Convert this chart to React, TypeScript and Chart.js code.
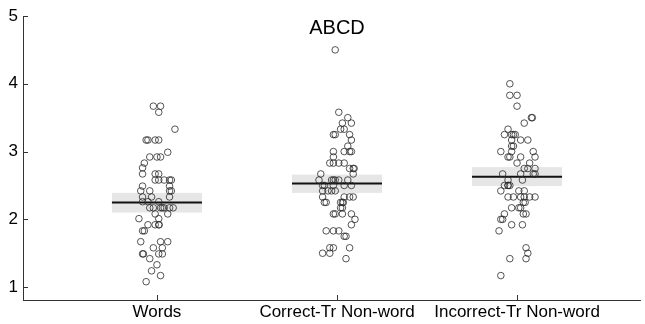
import React, { useEffect, useRef } from "react";
import { Chart, registerables } from "chart.js";

Chart.register(...registerables);

const categories = ["Words", "Correct-Tr Non-word", "Incorrect-Tr Non-word"];
const titleText = "ABCD";
const yTickValues = [1, 2, 3, 4, 5];
const means = [2.25, 2.53, 2.63];
const ciLow = [2.1, 2.39, 2.49];
const ciHigh = [2.39, 2.66, 2.77];

const wordsValues = [
  3.67, 3.67, 3.58, 3.33, 3.17, 3.17, 3.17, 3.17, 2.99, 2.92, 2.92, 2.92, 2.83,
  2.76, 2.67, 2.67, 2.67, 2.58, 2.58, 2.58, 2.58, 2.58, 2.49, 2.49, 2.42, 2.42,
  2.42, 2.42, 2.33, 2.33, 2.33, 2.26, 2.26, 2.26, 2.17, 2.17, 2.17, 2.17, 2.17,
  2.17, 2.17, 2.08, 2.08, 2.01, 2.01, 1.92, 1.92, 1.92, 1.92, 1.83, 1.83, 1.67,
  1.67, 1.67, 1.58, 1.58, 1.49, 1.49, 1.49, 1.49, 1.42, 1.33, 1.24, 1.17, 1.08,
];
const wordsJitter = [
  -0.02, 0.02, 0.01, 0.1, -0.06, -0.05, -0.01, 0.01, 0.06, -0.04, 0.0, 0.02, -0.07,
  -0.08, -0.08, -0.01, 0.01, -0.01, 0.01, 0.04, 0.07, 0.08, 0.07, -0.08, -0.09, -0.04,
  0.07, 0.08, -0.08, -0.03, 0.07, -0.08, -0.05, 0.01, -0.04, -0.02, 0.02, 0.03, 0.04,
  0.07, 0.09, 0.06, -0.01, 0.01, -0.1, -0.05, -0.01, 0.01, 0.012, -0.08, -0.07, -0.09,
  0.02, 0.06, -0.02, 0.03, -0.08, -0.075, 0.01, 0.03, -0.04, 0.0, -0.03, 0.02, -0.06,
];

const correctValues = [
  4.5, 3.58, 3.5, 3.42, 3.42, 3.33, 3.33, 3.25, 3.25, 3.25, 3.17, 3.08, 3.0, 3.0,
  3.0, 3.0, 2.92, 2.83, 2.83, 2.83, 2.83, 2.75, 2.75, 2.75, 2.67, 2.67, 2.58, 2.58,
  2.58, 2.58, 2.58, 2.58, 2.5, 2.5, 2.5, 2.5, 2.5, 2.42, 2.42, 2.42, 2.42, 2.33,
  2.33, 2.33, 2.33, 2.25, 2.25, 2.25, 2.25, 2.25, 2.17, 2.17, 2.08, 2.08, 2.08, 2.08,
  2.0, 1.92, 1.83, 1.83, 1.83, 1.75, 1.75, 1.58, 1.58, 1.58, 1.5, 1.5, 1.42,
];
const correctJitter = [
  -0.01, 0.01, 0.06, 0.03, 0.08, 0.02, 0.04, -0.02, -0.01, 0.07, 0.08, 0.06, 0.04, 0.07,
  0.08, -0.02, -0.02, -0.04, -0.02, 0.01, 0.04, 0.07, 0.09, 0.095, 0.09, -0.09, -0.1, -0.03,
  -0.02, -0.01, 0.01, 0.06, -0.07, -0.02, 0.04, 0.08, -0.08, -0.08, -0.05, -0.01, -0.03, -0.08,
  0.04, 0.07, 0.09, -0.07, -0.06, 0.02, 0.03, 0.035, 0.02, 0.03, -0.02, -0.01, 0.03, 0.08,
  0.1, 0.08, -0.06, -0.02, 0.01, 0.04, 0.05, -0.04, -0.02, 0.07, -0.08, -0.04, 0.05,
];

const incorrectValues = [
  4.0, 3.83, 3.83, 3.67, 3.5, 3.5, 3.42, 3.33, 3.25, 3.25, 3.25, 3.25, 3.17, 3.17,
  3.17, 3.08, 3.08, 3.0, 3.0, 3.0, 2.92, 2.92, 2.92, 2.92, 2.83, 2.83, 2.75, 2.75,
  2.75, 2.67, 2.67, 2.67, 2.67, 2.58, 2.58, 2.5, 2.5, 2.5, 2.5, 2.42, 2.42, 2.42,
  2.33, 2.33, 2.33, 2.33, 2.33, 2.33, 2.25, 2.25, 2.17, 2.17, 2.17, 2.08, 2.08, 2.08,
  2.0, 2.0, 1.92, 1.92, 1.83, 1.58, 1.5, 1.42, 1.42, 1.17,
];
const incorrectJitter = [
  -0.04, -0.04, 0.0, 0.0, 0.08, 0.085, 0.04, -0.05, -0.07, -0.03, -0.02, -0.01, -0.03, 0.02,
  0.06, -0.03, -0.02, -0.09, -0.03, 0.09, 0.1, -0.05, -0.04, 0.02, 0.0, 0.07, 0.04, 0.06,
  0.1, -0.08, 0.02, 0.09, 0.1, -0.05, 0.03, -0.07, -0.05, -0.05, -0.04, -0.09, 0.01, 0.04,
  -0.05, -0.02, 0.02, 0.04, 0.07, 0.1, 0.035, 0.045, -0.03, 0.01, 0.02, -0.07, 0.035, 0.05,
  -0.09, -0.08, -0.03, 0.03, -0.1, 0.05, 0.06, -0.04, 0.05, -0.09,
];

const groups = [
  { values: wordsValues, jitter: wordsJitter },
  { values: correctValues, jitter: correctJitter },
  { values: incorrectValues, jitter: incorrectJitter },
];

const FONT = "'Liberation Sans', Arial, Helvetica, sans-serif";
const AXIS_COLOR = "#333333";
const BOX_HALF = 0.25;

const boxPlugin = {
  id: "boxPlugin",
  beforeDatasetsDraw(chart: any) {
    const { ctx, scales } = chart;
    const x = scales.x;
    const y = scales.y;
    ctx.save();
    ctx.fillStyle = "#e6e6e6";
    for (let i = 0; i < categories.length; i++) {
      const x0 = x.getPixelForValue(i + 1 - BOX_HALF);
      const x1 = x.getPixelForValue(i + 1 + BOX_HALF);
      const y0 = y.getPixelForValue(ciHigh[i]);
      const y1 = y.getPixelForValue(ciLow[i]);
      ctx.fillRect(x0, y0, x1 - x0, y1 - y0);
    }
    ctx.restore();
  },
  afterDraw(chart: any) {
    const { ctx, scales, chartArea } = chart;
    const x = scales.x;
    const y = scales.y;
    ctx.save();
    ctx.strokeStyle = AXIS_COLOR;
    ctx.lineWidth = 1;
    ctx.beginPath();
    for (const v of yTickValues) {
      const py = Math.round(y.getPixelForValue(v)) + 0.5;
      ctx.moveTo(chartArea.left, py);
      ctx.lineTo(chartArea.left + 5, py);
    }
    for (let i = 0; i < categories.length; i++) {
      const px = Math.round(x.getPixelForValue(i + 1)) + 0.5;
      ctx.moveTo(px, chartArea.bottom);
      ctx.lineTo(px, chartArea.bottom - 5);
    }
    ctx.stroke();
    ctx.fillStyle = "#000";
    ctx.font = `20px ${FONT}`;
    ctx.textAlign = "center";
    ctx.textBaseline = "middle";
    ctx.fillText(titleText, x.getPixelForValue(2), chartArea.top + 12.5);
    ctx.restore();
  },
};

export default function App() {
  const ref = useRef<HTMLCanvasElement | null>(null);
  useEffect(() => {
    document.body.style.margin = "0";
    const canvas = ref.current;
    if (!canvas) return;

    const meanLine: any[] = [];
    means.forEach((m, i) => {
      meanLine.push({ x: i + 1 - BOX_HALF, y: m });
      meanLine.push({ x: i + 1 + BOX_HALF, y: m });
      meanLine.push({ x: i + 1 + BOX_HALF, y: null });
    });

    const datasets: any[] = groups.map((g, gi) => ({
      type: "scatter",
      label: categories[gi],
      data: g.values.map((v, i) => ({ x: gi + 1 + g.jitter[i], y: v })),
      pointRadius: 3.3,
      pointBorderWidth: 0.8,
      pointBorderColor: "#2a2a2a",
      pointBackgroundColor: "rgba(0,0,0,0)",
      order: 1,
    }));
    datasets.push({
      type: "line",
      label: "mean",
      data: meanLine,
      borderColor: "#111111",
      borderWidth: 2,
      pointRadius: 0,
      spanGaps: false,
      fill: false,
      order: 2,
    });

    const chart = new Chart(canvas, {
      type: "scatter",
      data: { datasets },
      options: {
        animation: false,
        responsive: false,
        devicePixelRatio: 1,
        layout: { padding: { top: 16, right: 5, left: 0, bottom: 0 } },
        plugins: {
          legend: { display: false },
          title: { display: false },
          tooltip: { enabled: false },
        },
        scales: {
          x: {
            type: "linear",
            min: 0.256,
            max: 3.683,
            afterBuildTicks(scale: any) {
              scale.ticks = [1, 2, 3].map((v) => ({ value: v }));
            },
            afterFit(scale: any) {
              scale.height = 24;
            },
            ticks: {
              autoSkip: false,
              maxRotation: 0,
              padding: 2,
              color: "#000",
              font: { family: FONT, size: 17 },
              callback: (v: any) => categories[Math.round(Number(v)) - 1] ?? "",
            },
            grid: { display: false, drawTicks: false },
            border: { display: true, color: AXIS_COLOR, width: 1 },
          },
          y: {
            type: "linear",
            min: 0.81,
            max: 5,
            afterBuildTicks(scale: any) {
              scale.ticks = yTickValues.map((v) => ({ value: v }));
            },
            afterFit(scale: any) {
              scale.width = 23;
            },
            ticks: {
              padding: 5,
              color: "#000",
              font: { family: FONT, size: 17 },
              callback: (v: any) => String(v),
            },
            grid: { display: false, drawTicks: false },
            border: { display: true, color: AXIS_COLOR, width: 1 },
          },
        },
      },
      plugins: [boxPlugin],
    });
    return () => chart.destroy();
  }, []);

  return <canvas ref={ref} width={645} height={324} style={{ display: "block" }} />;
}
